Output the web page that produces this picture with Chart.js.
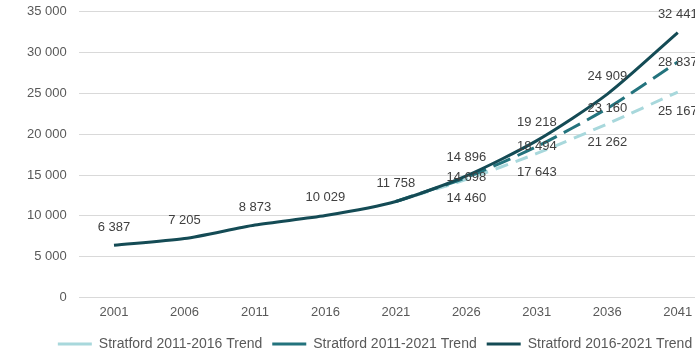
<!DOCTYPE html>
<html>
<head>
<meta charset="utf-8">
<script src="https://cdn.jsdelivr.net/npm/chart.js@4/dist/chart.umd.min.js"></script>
<style>
  html, body { margin: 0; padding: 0; background: #ffffff; overflow: hidden; }
  #wrap { position: relative; width: 695px; height: 352px; overflow: hidden; }
  #c { position: absolute; left: 0; top: -8px; }
</style>
</head>
<body>
<div id="wrap"><canvas id="c" width="750" height="360"></canvas></div>
<script>
const years = ['2001', '2006', '2011', '2016', '2021', '2026', '2031', '2036', '2041'];
const trend1621 = [6387, 7205, 8873, 10029, 11758, 14896, 19218, 24909, 32441];
const trend1121 = [null, null, null, null, 11758, 14698, 18494, 23160, 28837];
const trend1116 = [null, null, null, null, 11758, 14460, 17643, 21262, 25167];
const yTicks = [0, 5000, 10000, 15000, 20000, 25000, 30000, 35000];

function fmt(v) {
  return String(v).replace(/\B(?=(\d{3})+(?!\d))/g, ' ');
}

const labelPlugin = {
  id: 'valueLabels',
  afterDatasetsDraw(chart) {
    const ctx = chart.ctx;
    ctx.save();
    ctx.font = '13px "Liberation Sans", Arial, sans-serif';
    ctx.fillStyle = '#404040';
    ctx.textAlign = 'center';
    ctx.textBaseline = 'middle';
    chart.data.datasets.forEach((ds, di) => {
      const meta = chart.getDatasetMeta(di);
      const mode = ds.labelMode;
      meta.data.forEach((pt, i) => {
        const v = ds.data[i];
        if (v == null) return;
        if (i < ds.labelFrom) return;
        let dy = 0;
        if (mode === 'above') dy = -18;
        if (mode === 'below') dy = 19;
        ctx.fillText(fmt(v), pt.x, pt.y + dy);
      });
    });
    ctx.restore();
  }
};

const legendShift = {
  id: 'legendShift',
  afterLayout(chart) {
    if (chart.legend) {
      chart.legend.left += 11;
      chart.legend.right += 11;
    }
  }
};

new Chart(document.getElementById('c'), {
  type: 'line',
  data: {
    labels: years,
    datasets: [
      {
        label: 'Stratford 2011-2016 Trend',
        data: trend1116,
        borderColor: '#a8d8dc',
        backgroundColor: '#a8d8dc',
        borderWidth: 3,
        borderDash: [13, 8],
        pointRadius: 0,
        tension: 0.25,
        labelMode: 'below',
        labelFrom: 5,
        order: 3
      },
      {
        label: 'Stratford 2011-2021 Trend',
        data: trend1121,
        borderColor: '#23737d',
        backgroundColor: '#23737d',
        borderWidth: 3,
        borderDash: [18, 8],
        pointRadius: 0,
        tension: 0.25,
        labelMode: 'center',
        labelFrom: 5,
        order: 2
      },
      {
        label: 'Stratford 2016-2021 Trend',
        data: trend1621,
        borderColor: '#144b55',
        backgroundColor: '#144b55',
        borderWidth: 3,
        pointRadius: 0,
        tension: 0.25,
        labelMode: 'above',
        labelFrom: 0,
        order: 1
      }
    ]
  },
  options: {
    responsive: false,
    animation: false,
    devicePixelRatio: 1,
    layout: { padding: { left: 15, right: 37, top: -2, bottom: -9 } },
    plugins: {
      legend: {
        position: 'bottom',
        labels: {
          usePointStyle: true,
          pointStyle: 'line',
          pointStyleWidth: 34,
          boxHeight: 3,
          padding: 10,
          color: '#595959',
          sort: (a, b) => a.datasetIndex - b.datasetIndex,
          font: { family: '"Liberation Sans", Arial, sans-serif', size: 14 }
        }
      },
      tooltip: { enabled: false }
    },
    scales: {
      x: {
        offset: true,
        grid: { display: false, drawTicks: false },
        border: { display: false },
        ticks: {
          color: '#595959',
          padding: 7,
          font: { family: '"Liberation Sans", Arial, sans-serif', size: 13 }
        }
      },
      y: {
        min: 0,
        max: 35000,
        afterBuildTicks(scale) { scale.ticks = yTicks.map(v => ({ value: v })); },
        grid: { color: '#d9d9d9', lineWidth: 1, drawTicks: false },
        border: { display: false },
        ticks: {
          color: '#595959',
          padding: 12,
          callback: v => fmt(v),
          font: { family: '"Liberation Sans", Arial, sans-serif', size: 13 }
        }
      }
    }
  },
  plugins: [labelPlugin, legendShift]
});
</script>
</body>
</html>
